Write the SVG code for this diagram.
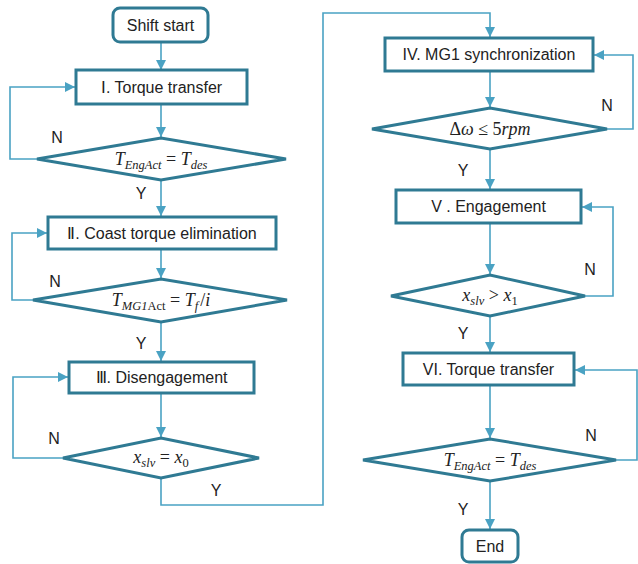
<svg xmlns="http://www.w3.org/2000/svg" width="638" height="564" viewBox="0 0 638 564">
<defs>
<marker id="ah" viewBox="0 0 10 10" refX="10" refY="5" markerWidth="10" markerHeight="10" markerUnits="userSpaceOnUse" orient="auto">
<path d="M0,0 L10,5 L0,10 Z" fill="#4aa2c3"/>
</marker>
<style>
.box{fill:#fff;stroke:#2f7a93;stroke-width:3}
.dia{fill:#fff;stroke:#2f7a93;stroke-width:3;stroke-linejoin:miter}
.ln{fill:none;stroke:#4aa2c3;stroke-width:1.6}
.arr{marker-end:url(#ah)}
.t{font-family:"Liberation Sans",Arial,sans-serif;font-size:16px;fill:#222;text-anchor:middle}
.lb{font-family:"Liberation Sans",Arial,sans-serif;font-size:16px;fill:#222;text-anchor:middle}
.m{font-family:"Liberation Serif","DejaVu Serif",serif;font-size:18px;fill:#222;text-anchor:middle;font-style:italic}
.s{font-size:12.5px}
.u{font-style:normal}
</style>
</defs>
<rect width="638" height="564" fill="#fff"/>
<g id="connectors">
<path class="ln arr" d="M161,42 V70"/>
<path class="ln arr" d="M161,104 V137"/>
<path class="ln arr" d="M37,159 H10 V87 H75"/>
<path class="ln arr" d="M161,180 V216"/>
<path class="ln arr" d="M33,300 H12 V233 H47"/>
<path class="ln arr" d="M161,249 V278"/>
<path class="ln arr" d="M161,322 V361"/>
<path class="ln arr" d="M63,458 H13 V377 H68"/>
<path class="ln arr" d="M161,393 V437"/>
<path class="ln arr" d="M161,478 V505 H323 V13 H490 V37"/>
<path class="ln arr" d="M490,71 V107"/>
<path class="ln arr" d="M607,129 H633 V55 H594"/>
<path class="ln arr" d="M490,149 V189"/>
<path class="ln arr" d="M490,223 V274"/>
<path class="ln arr" d="M585,296 H613 V207 H582"/>
<path class="ln arr" d="M490,316 V352"/>
<path class="ln arr" d="M490,385 V438"/>
<path class="ln arr" d="M616,460 H637 V370 H575"/>
<path class="ln arr" d="M490,481 V529"/>
</g>
<g id="labels">
<text class="lb" x="57" y="143">N</text>
<text class="lb" x="141" y="199">Y</text>
<text class="lb" x="55" y="287">N</text>
<text class="lb" x="141" y="349">Y</text>
<text class="lb" x="54" y="444">N</text>
<text class="lb" x="216" y="496">Y</text>
<text class="lb" x="607" y="111">N</text>
<text class="lb" x="463" y="176">Y</text>
<text class="lb" x="590" y="275">N</text>
<text class="lb" x="463" y="339">Y</text>
<text class="lb" x="591" y="441">N</text>
<text class="lb" x="463" y="515">Y</text>
</g>
<g id="start">
<rect class="box" x="113" y="8" width="95" height="34" rx="7"/>
<text class="t" x="160.5" y="31">Shift start</text>
</g>
<g id="step1">
<rect class="box" x="76" y="70" width="171" height="34"/>
<text class="t" x="161.5" y="93">Ⅰ. Torque transfer</text>
</g>
<g id="dec1">
<path class="dia" d="M37,159 L161,138 L286,159 L161,180 Z"/>
<text class="m" x="161" y="165">T<tspan class="s" dy="4">EngAct</tspan><tspan class="u" dy="-4"> = </tspan>T<tspan class="s" dy="4">des</tspan></text>
</g>
<g id="step2">
<rect class="box" x="48" y="217" width="228" height="32"/>
<text class="t" x="162" y="239">Ⅱ. Coast torque elimination</text>
</g>
<g id="dec2">
<path class="dia" d="M33,300 L161,279 L287,300 L161,322 Z"/>
<text class="m" x="161" y="306">T<tspan class="s" dy="4">MG1</tspan><tspan class="s u">Act</tspan><tspan class="u" dy="-4"> = </tspan>T<tspan class="s" dy="4">f</tspan><tspan class="u" dx="2" dy="-4">/</tspan>i</text>
</g>
<g id="step3">
<rect class="box" x="69" y="362" width="185" height="31"/>
<text class="t" x="161.5" y="383">Ⅲ. Disengagement</text>
</g>
<g id="dec3">
<path class="dia" d="M63,458 L161,438 L259,458 L161,478 Z"/>
<text class="m" x="161" y="463">x<tspan class="s" dy="4">slv</tspan><tspan class="u" dy="-4"> = </tspan>x<tspan class="s u" dy="4">0</tspan></text>
</g>
<g id="step4">
<rect class="box" x="385" y="38" width="208" height="33"/>
<text class="t" x="489" y="60">IV. MG1 synchronization</text>
</g>
<g id="dec4">
<path class="dia" d="M372,129 L490,108 L607,129 L490,149 Z"/>
<text class="m" x="490" y="135"><tspan class="u">Δ</tspan>ω<tspan class="u"> ≤ 5</tspan>rpm</text>
</g>
<g id="step5">
<rect class="box" x="396" y="190" width="185" height="33"/>
<text class="t" x="488.5" y="212">V . Engagement</text>
</g>
<g id="dec5">
<path class="dia" d="M391,296 L490,275 L585,296 L490,316 Z"/>
<text class="m" x="490" y="301">x<tspan class="s" dy="4">slv</tspan><tspan class="u" dy="-4"> &gt; </tspan>x<tspan class="s u" dy="4">1</tspan></text>
</g>
<g id="step6">
<rect class="box" x="403" y="353" width="171" height="32"/>
<text class="t" x="488.5" y="375">VI. Torque transfer</text>
</g>
<g id="dec6">
<path class="dia" d="M363,460 L490,439 L616,460 L490,481 Z"/>
<text class="m" x="490" y="466">T<tspan class="s" dy="4">EngAct</tspan><tspan class="u" dy="-4"> = </tspan>T<tspan class="s" dy="4">des</tspan></text>
</g>
<g id="end">
<rect class="box" x="462" y="530" width="56" height="32" rx="7"/>
<text class="t" x="490" y="552">End</text>
</g>
</svg>
